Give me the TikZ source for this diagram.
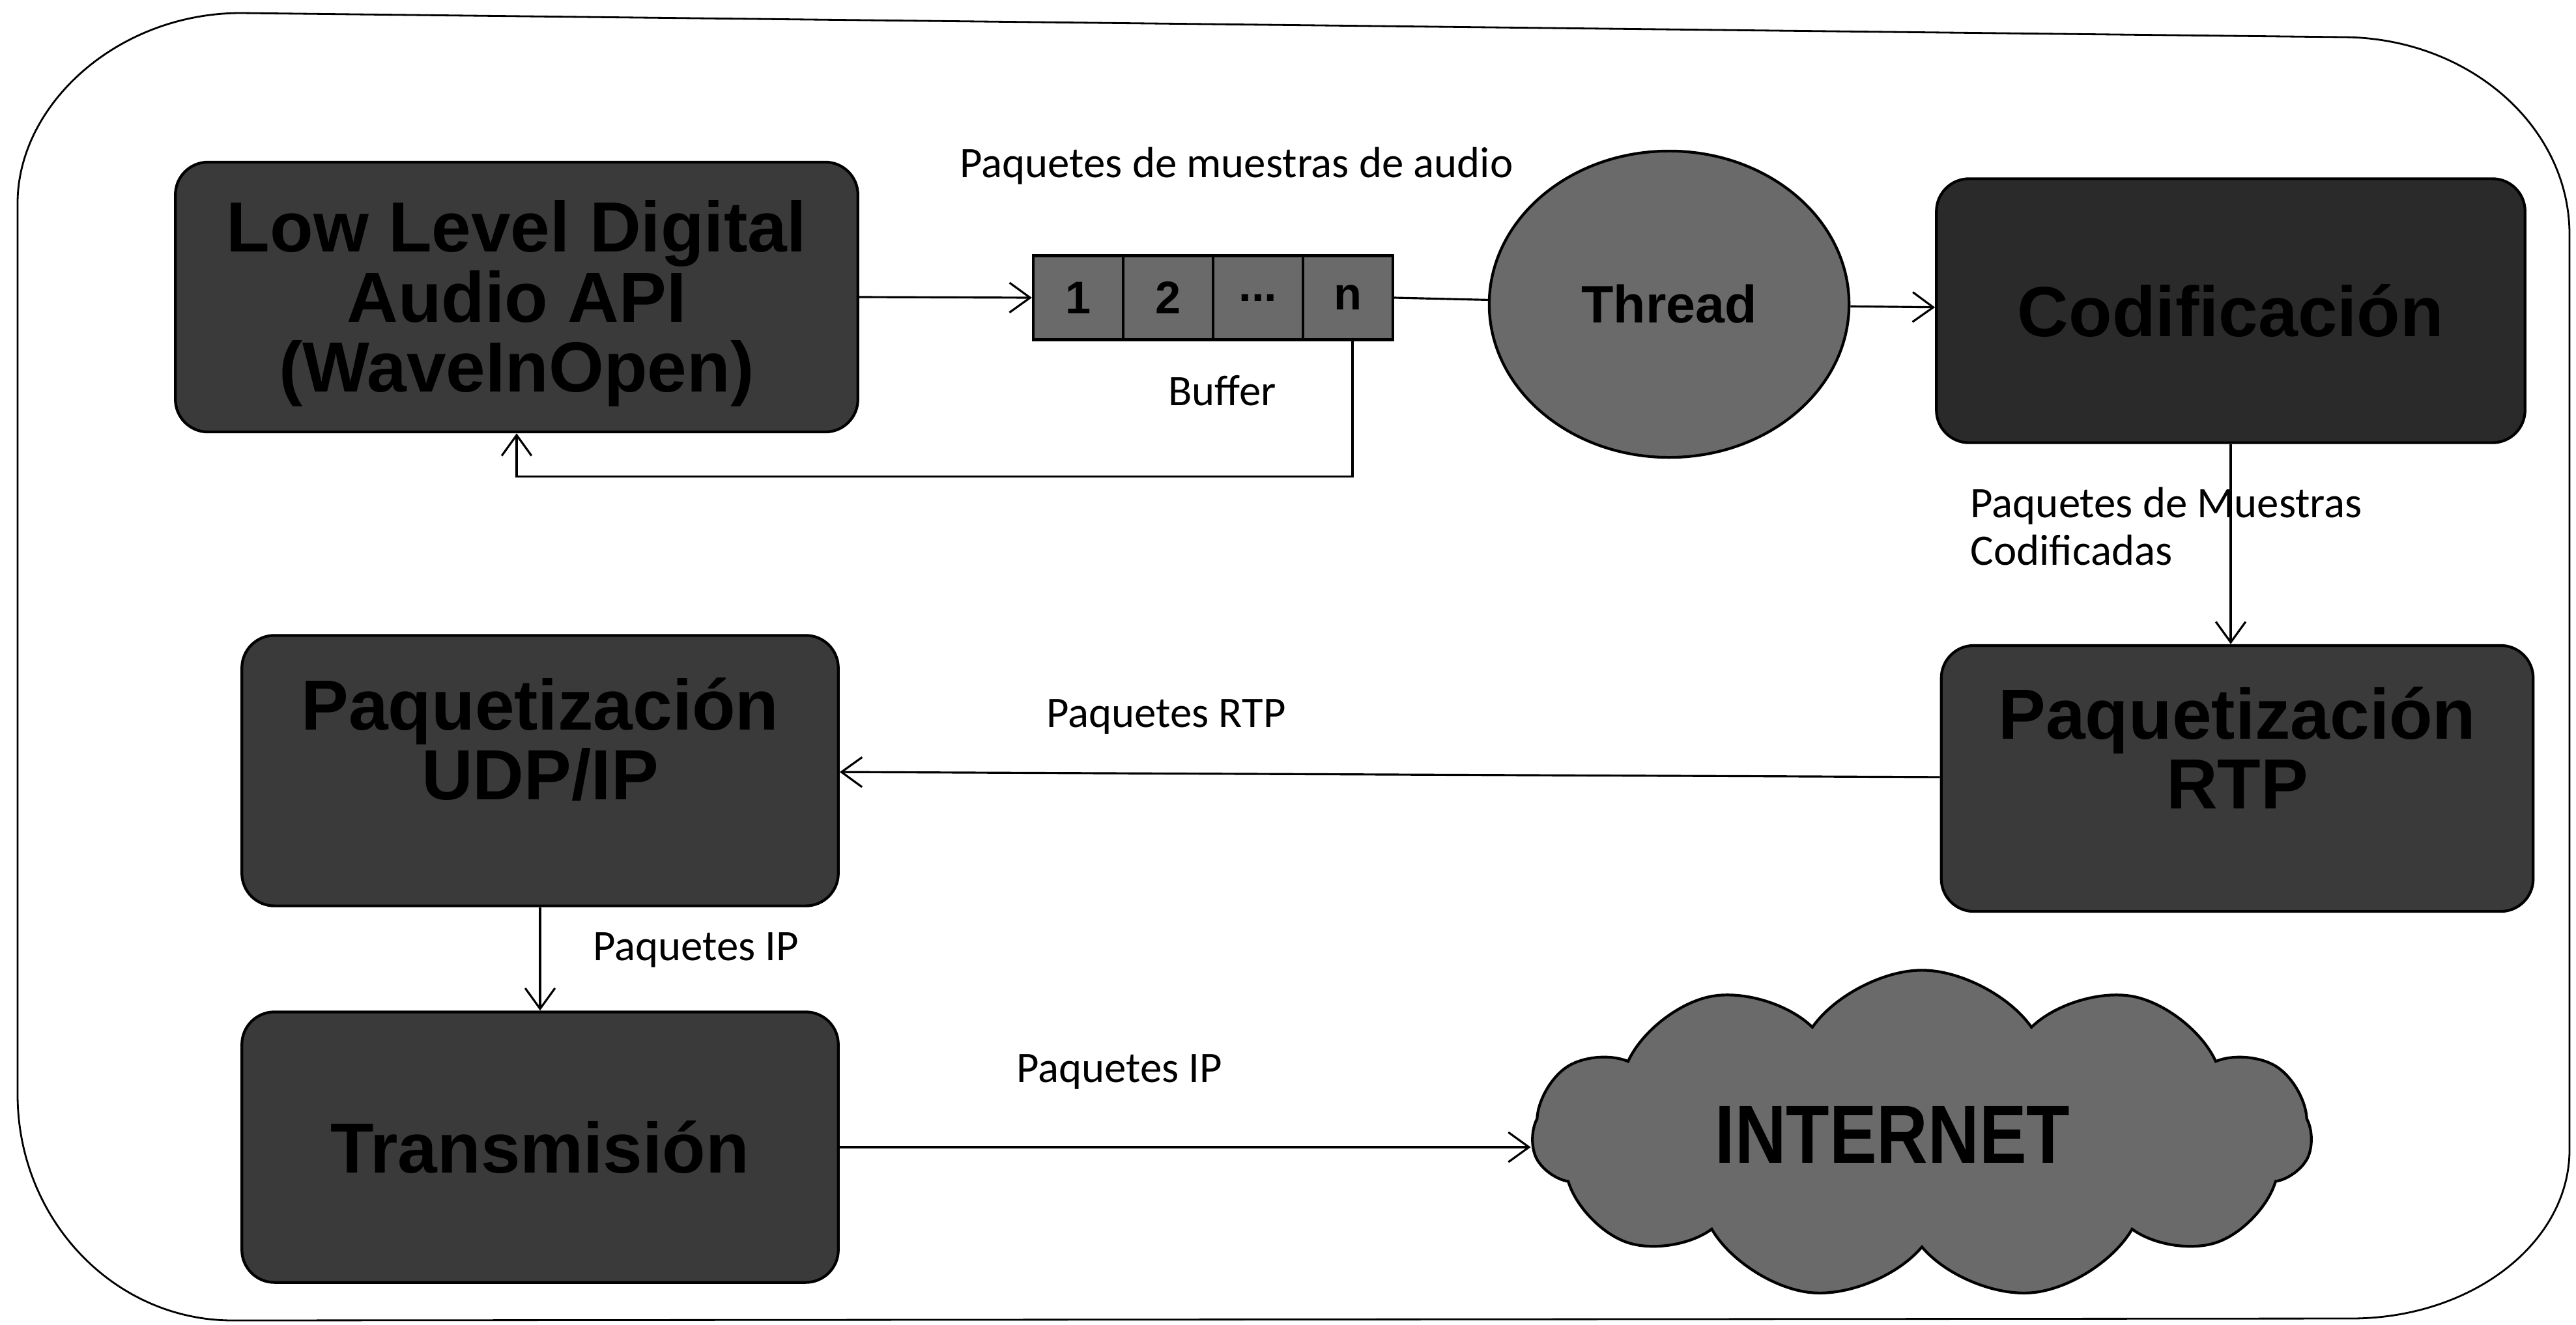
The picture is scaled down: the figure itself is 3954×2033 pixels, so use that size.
\documentclass[tikz,border=0pt]{standalone}
\usepackage{fontspec}
\setmainfont{Carlito}
\newfontfamily\blockfont{Liberation Sans}
\usetikzlibrary{arrows.meta,shapes.geometric,shapes.symbols}

\definecolor{boxgray}{HTML}{3A3A3A}
\definecolor{boxdark}{HTML}{2A2A2A}
\definecolor{midgray}{HTML}{6A6A6A}

\begin{document}
\begin{tikzpicture}[x=0.01cm,y=-0.01cm,
  block/.style={draw=black, line width=1.2pt, fill=boxgray, rounded corners=0.5cm,
    align=center, inner sep=0pt, font=\blockfont\bfseries\fontsize{31}{30.5}\selectfont},
  blocktext/.style={align=center, inner sep=0pt, font=\blockfont\bfseries\fontsize{31}{30.5}\selectfont},
  cell/.style={draw=black, line width=1.2pt, fill=midgray, minimum width=1.38cm,
    minimum height=1.29cm, inner sep=0pt, font=\blockfont\bfseries\fontsize{20}{20}\selectfont},
  lbl/.style={inner sep=0pt, font=\fontsize{19}{20.8}\selectfont},
  conn/.style={line width=0.9pt},
  flow/.style={conn, -{Straight Barb[length=9pt,width=13pt]}},
]
\useasboundingbox (0,0) rectangle (3954,2033);
\fill[white] (0,0) rectangle (3954,2033);

% outer frame
\draw[line width=0.8pt] (27,312) .. controls (27,160) and (181,20) .. (370,20)
  -- (3595,57) .. controls (3788,57) and (3944,193) .. (3944,360)
  -- (3944,1765) .. controls (3944,1908) and (3794,2024) .. (3609,2024)
  -- (357,2027) .. controls (175,2027) and (27,1872) .. (27,1680) -- cycle;

% processing blocks
\node[block, minimum width=10.47cm, minimum height=4.14cm,
  label={[blocktext, yshift=-0.1cm]center:{Low Level Digital\\Audio API\\(WaveInOpen)}}]
  (api) at (793,456) {};
\node[block, fill=boxdark, minimum width=9.03cm, minimum height=4.05cm] (cod) at (3424,477)
  {Codificación};
\node[block, minimum width=9.08cm, minimum height=4.08cm,
  label={[blocktext, yshift=0.47cm]center:{Paquetización\\RTP}}] (rtp) at (3434,1195) {};
\node[block, minimum width=9.15cm, minimum height=4.15cm,
  label={[blocktext, yshift=0.48cm]center:{Paquetización\\UDP/IP}}] (udp) at (829,1183) {};
\node[block, minimum width=9.15cm, minimum height=4.15cm] (tx) at (829,1761)
  {Transmisión};

% buffer cells
\node[cell] (c1) at (1655,457) {1};
\node[cell] (c2) at (1793,457) {2};
\node[cell] (c3) at (1931,457) {...};
\node[cell] (c4) at (2069,457) {n};

% thread
\node[ellipse, draw=black, line width=1.2pt, fill=midgray, minimum width=5.52cm,
  minimum height=4.70cm, inner sep=0pt,
  font=\blockfont\bfseries\fontsize{23}{23}\selectfont] (thr) at (2562,467) {Thread};

% internet cloud
\node[cloud, draw=black, line width=1.2pt, fill=midgray, cloud puffs=11,
  cloud puff arc=110, cloud ignores aspect, minimum width=11.95cm,
  minimum height=5.05cm, inner sep=0pt,
  font=\blockfont\bfseries\fontsize{36}{36}\selectfont] (net) at (2950,1742)
  {\scalebox{0.86}[1]{INTERNET}\hspace*{0.9cm}};

% connectors
\draw[flow] (api.east) -- (c1.west);
\draw[conn] (c4.east) -- (thr);
\draw[flow] (thr) -- (cod);
\draw[flow] ([xshift=0.07cm]c4.south) -- ++(0,208) -| (api.south);
\draw[flow] (cod.south) -- (cod.south |- rtp.north);
\draw[flow] (rtp) -- (udp);
\draw[flow] (udp) -- (tx);
\draw[flow] (tx.east) -- (tx.east -| net.west);

% labels
\node[lbl] (lbaudio) at (1898,255) {Paquetes de muestras de audio};
\node[lbl] (lbbuf) at (1876,600) {Buffer};
\node[lbl, anchor=west, align=left] (lbcod) at (3024,808) {Paquetes de Muestras\\Codificadas};
\node[lbl] (lbrtp) at (1790,1100) {Paquetes RTP};
\node[lbl] (lbip) at (1068,1458) {Paquetes IP};
\node[lbl] (lbnet) at (1718,1645) {Paquetes IP};
\end{tikzpicture}
\end{document}
